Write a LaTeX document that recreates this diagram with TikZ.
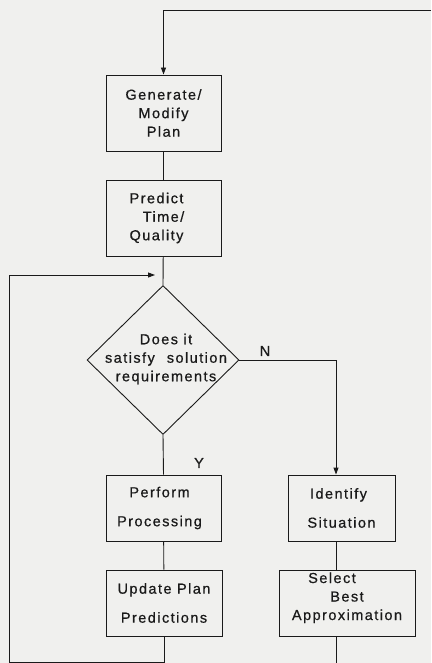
\documentclass[tikz,border=0pt]{standalone}
\usepackage{fontspec}
\setmainfont{Liberation Sans}[LetterSpace=10,FakeBold=0.6]
\usetikzlibrary{arrows.meta,shapes.geometric}
\definecolor{ink}{HTML}{1A1A1A}
\definecolor{paper}{HTML}{F0F0EE}
\begin{document}
\begin{tikzpicture}[x=1pt,y=1pt,
  every node/.style={text=ink,font=\fontsize{14.5}{18.5}\selectfont},
  procbox/.style={draw=ink,line width=0.9pt,rectangle,align=center,inner sep=0pt},
  conn/.style={draw=ink,line width=0.9pt},
  arr/.style={conn,-{Triangle[length=7pt,width=5pt]}}]
\fill[paper] (0,0) rectangle (431,-663);
\useasboundingbox (0,0) rectangle (431,-663);
\node[procbox,minimum width=115pt,minimum height=76pt] (gen) at (163.5,-113) {Generate/\\Modify\\Plan};
\node[procbox,minimum width=115pt,minimum height=76pt] (pred) at (163.5,-218) {Predict\hspace*{14pt}\\Time/\hspace*{14pt}\\Quality\hspace*{14pt}};
\node[draw=ink,line width=0.9pt,diamond,minimum width=152pt,minimum height=149pt,inner sep=0pt] (dec) at (163,-360) {};
\node[align=center,inner sep=0pt] (dectext) at (166,-359) {Does it\\satisfy\hspace{12pt}solution\\requirements};
\node[procbox,minimum width=115pt,minimum height=66pt] (perf) at (163.5,-508) {Perform\hspace*{8pt}\\[10.5pt]Processing\hspace*{8pt}};
\node[procbox,minimum width=116pt,minimum height=66pt] (upd) at (164,-603) {Update Plan\\[10.5pt]Predictions};
\node[procbox,minimum width=107pt,minimum height=66pt] (ident) at (341.5,-508) {Identify\hspace*{6pt}\\[10.5pt]Situation};
\node[procbox,minimum width=136pt,minimum height=66pt] (sel) at (347,-603) {Select\hspace*{30pt}\\\hspace*{0pt}Best\hspace*{22pt}\\Approximation\\[-5pt]};
\node (nlab) at (265,-351) {N};
\node (ylab) at (199,-463) {Y};
\coordinate (topright) at (431,-10);
\coordinate (rx) at (336,0);
\coordinate (bottom) at (0,-663);
\coordinate (lb) at (9,-662);
\coordinate (lt) at (9,-275);
\coordinate (ltip) at (155,-275);
\draw[arr] (topright) -| (gen.north);
\draw[conn] (gen) -- (pred);
\draw[conn] (pred) -- (dec.north);
\draw[arr] (upd.south) |- (lb) -- (lt) -- (ltip);
\draw[conn] (dec.south) -- (perf.north);
\draw[conn] (perf) -- (upd);
\draw[arr] (dec.east) -| (rx |- ident.north);
\draw[conn] (rx |- ident.south) -- (rx |- sel.north);
\draw[conn] (rx |- sel.south) -- (rx |- bottom);
\end{tikzpicture}
\end{document}
